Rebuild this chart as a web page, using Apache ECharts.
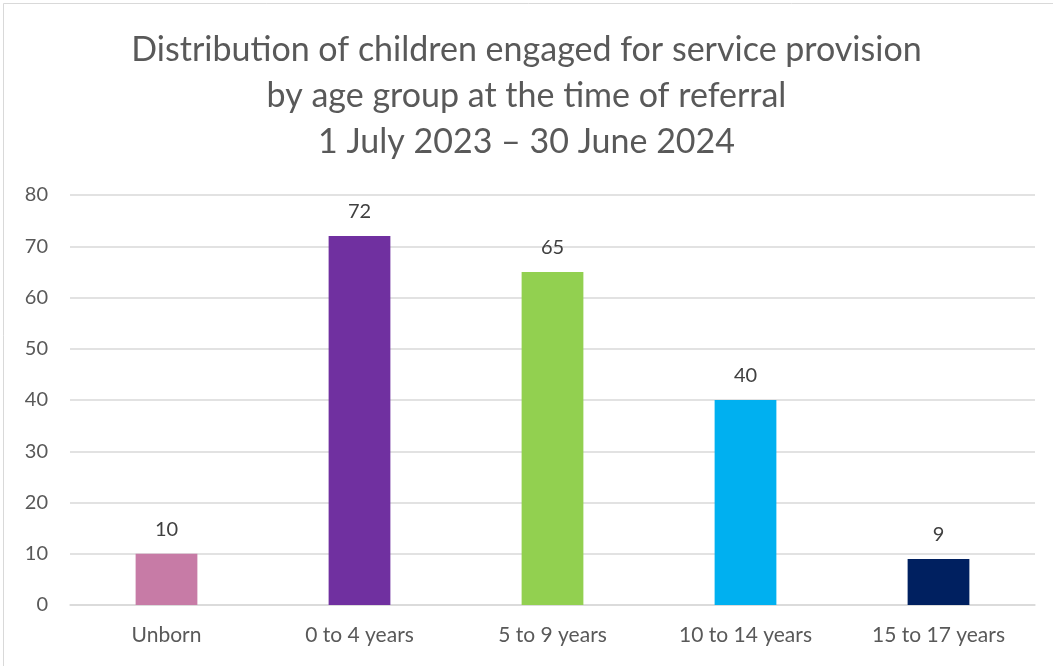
<!DOCTYPE html>
<html><head><meta charset="utf-8">
<script src="https://cdn.jsdelivr.net/npm/echarts@6/dist/echarts.min.js"></script>
<style>html,body{margin:0;padding:0;background:#fff}#c{width:1053px;height:666px}</style>
</head><body><div id="c"></div>
<script>
const categories = ["Unborn", "0 to 4 years", "5 to 9 years", "10 to 14 years", "15 to 17 years"];
const values = [10, 72, 65, 40, 9];
const barColors = ["#C77BA6", "#7030A0", "#92D050", "#00B0F0", "#002060"];
const titleText = "Distribution of children engaged for service provision\nby age group at the time of referral\n1 July 2023 \u2013 30 June 2024";

const chart = echarts.init(document.getElementById('c'), null, {renderer: 'canvas'});
chart.setOption({
  animation: false,
  backgroundColor: '#fff',
  graphic: [{type: 'rect', shape: {x: 3.5, y: 3.5, width: 1060, height: 670}, style: {fill: 'none', stroke: '#d9d9d9', lineWidth: 1}, silent: true}],
  title: {
    text: titleText, left: 'center', top: 22,
    textStyle: {fontFamily: 'Lato', fontSize: 34, fontWeight: 'normal', color: '#595959', lineHeight: 46}
  },
  grid: {left: 70, right: 18, top: 195, bottom: 61, containLabel: false},
  xAxis: {
    type: 'category', data: categories,
    axisLine: {lineStyle: {color: '#d9d9d9', width: 1.5}},
    axisTick: {show: false},
    axisLabel: {fontFamily: 'Lato', fontSize: 21, color: '#595959', margin: 20}
  },
  yAxis: {
    type: 'value', min: 0, max: 80, interval: 10,
    axisLine: {show: false}, axisTick: {show: false},
    splitLine: {lineStyle: {color: '#d9d9d9', width: 1.5}},
    axisLabel: {fontFamily: 'Lato', fontSize: 20, color: '#595959', margin: 22}
  },
  series: [{
    type: 'bar', barWidth: '32%',
    data: values.map((v, i) => ({value: v, itemStyle: {color: barColors[i]}})),
    label: {show: true, position: 'top', distance: 14, fontFamily: 'Lato', fontSize: 20, color: '#404040'}
  }]
});
</script></body></html>
